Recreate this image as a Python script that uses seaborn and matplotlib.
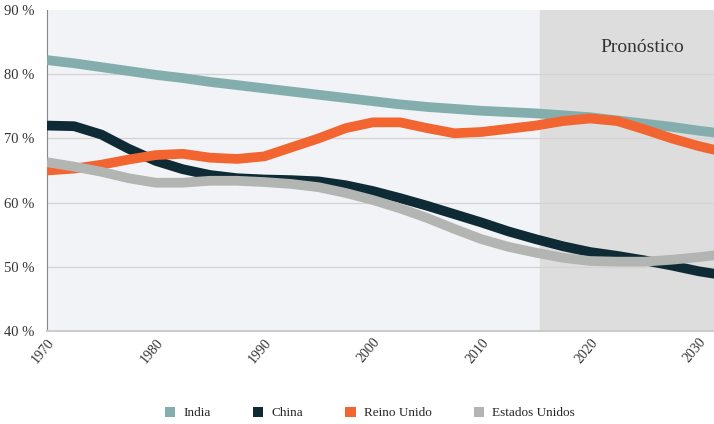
import numpy as np
import pandas as pd
import matplotlib
matplotlib.use("Agg")
import matplotlib.pyplot as plt
import matplotlib.transforms as mtransforms
import seaborn as sns
from matplotlib.patches import Patch

# data (percent), every 2.5 years
years = [1970, 1972.5, 1975, 1977.5, 1980, 1982.5, 1985, 1987.5, 1990, 1992.5,
         1995, 1997.5, 2000, 2002.5, 2005, 2007.5, 2010, 2012.5, 2015, 2017.5,
         2020, 2022.5, 2025, 2027.5, 2030, 2031.5]
india = [82.2, 81.7, 81.1, 80.5, 79.9, 79.4, 78.8, 78.3, 77.8, 77.3,
         76.8, 76.3, 75.8, 75.3, 74.9, 74.6, 74.3, 74.1, 73.9, 73.6,
         73.3, 72.8, 72.3, 71.8, 71.2, 70.9]
china = [72.0, 71.9, 70.6, 68.4, 66.5, 65.2, 64.3, 63.8, 63.6, 63.5,
         63.3, 62.7, 61.8, 60.7, 59.5, 58.2, 56.9, 55.5, 54.3, 53.2,
         52.3, 51.7, 51.0, 50.2, 49.3, 48.9]
reino_unido = [65.0, 65.3, 65.9, 66.7, 67.4, 67.6, 67.0, 66.8, 67.2, 68.6,
               70.0, 71.6, 72.5, 72.5, 71.6, 70.8, 71.0, 71.5, 72.0, 72.7,
               73.1, 72.7, 71.4, 70.0, 68.8, 68.2]
estados_unidos = [66.3, 65.6, 64.8, 63.8, 63.1, 63.1, 63.4, 63.4, 63.2, 62.9,
                  62.4, 61.5, 60.4, 59.1, 57.6, 55.9, 54.3, 53.1, 52.2, 51.4,
                  50.9, 50.8, 50.8, 51.1, 51.5, 51.8]

series = ["India", "China", "Reino Unido", "Estados Unidos"]
colors = ["#84aeae", "#0e2b35", "#f26530", "#b3b5b3"]
forecast_start = 2015.4
y_ticks = [40, 50, 60, 70, 80, 90]
x_ticks = [1970, 1980, 1990, 2000, 2010, 2020, 2030]

df = pd.DataFrame({
    "año": years * 4,
    "valor": india + china + reino_unido + estados_unidos,
    "país": sum([[s] * len(years) for s in series], []),
})

sns.set_style("white")
plt.rcParams["font.family"] = ["Liberation Serif", "DejaVu Serif"]

fig = plt.figure(figsize=(7.14, 4.24), dpi=100)
ax = fig.add_axes([47 / 714, 1 - 331 / 424, 667 / 714, 321 / 424])
ax.set_facecolor("#f2f3f6")

ax.axvspan(forecast_start, 2035, color="#dcdddc", zorder=0)
for v in y_ticks[1:-1]:
    ax.axhline(v, color="#d3d3d3", lw=0.9, zorder=1)

sns.lineplot(data=df, x="año", y="valor", hue="país", palette=colors,
             hue_order=series, lw=7, legend=False, ax=ax, zorder=3,
             solid_capstyle="butt", solid_joinstyle="round")

ax.set_xlim(1970, 2031.4)
ax.set_ylim(40, 90)
ax.set_yticks(y_ticks)
ax.set_yticklabels([f"{v} %" for v in y_ticks], fontsize=10.5, color="#333333")
ax.set_xticks(x_ticks)
ax.set_xticklabels([str(y) for y in x_ticks], rotation=50, ha="right", va="top",
                   rotation_mode="anchor", fontsize=10, color="#333333")
shift = mtransforms.ScaledTranslation(8 / 100, -7 / 100, fig.dpi_scale_trans)
for lab in ax.get_xticklabels():
    lab.set_transform(lab.get_transform() + shift)
ax.tick_params(axis="both", length=0)
ax.tick_params(axis="y", pad=9)
ax.set_xlabel("")
ax.set_ylabel("")

for s in ["top", "right"]:
    ax.spines[s].set_visible(False)
ax.spines["left"].set_color("#888888")
ax.spines["bottom"].set_color("#cccccc")
ax.spines["bottom"].set_linewidth(1.5)

ax.text(2024.8, 84.2, "Pronóstico", fontsize=14, color="#333333", ha="center", va="center")

handles = [Patch(facecolor=c, edgecolor="none", label=s) for s, c in zip(series, colors)]
fig.legend(handles=handles, loc="center", bbox_to_anchor=(0.518, 0.026), ncol=4,
           frameon=False, fontsize=9.5, handlelength=0.8, handleheight=0.8,
           handletextpad=0.6, columnspacing=3.2)

fig.savefig("out.png", dpi=100)
